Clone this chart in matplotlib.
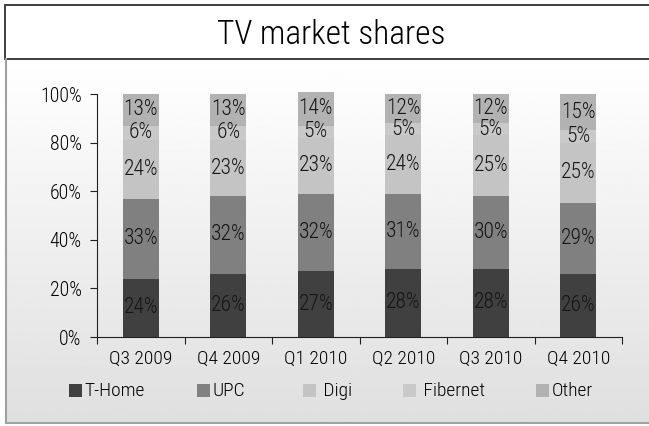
import numpy as np
import matplotlib
matplotlib.use('Agg')
import matplotlib.pyplot as plt
from matplotlib.patches import Rectangle

# TV market shares by quarter (percent)
quarters = ['Q3 2009', 'Q4 2009', 'Q1 2010', 'Q2 2010', 'Q3 2010', 'Q4 2010']
t_home = [24, 26, 27, 28, 28, 26]
upc = [33, 32, 32, 31, 30, 29]
digi = [24, 23, 23, 24, 25, 25]
fibernet = [6, 6, 5, 5, 5, 5]
other = [13, 13, 14, 12, 12, 15]

series_names = ['T-Home', 'UPC', 'Digi', 'Fibernet', 'Other']
series_values = [t_home, upc, digi, fibernet, other]
colors = ['#404040', '#808080', '#c4c4c4', '#c9c9c9', '#b2b2b2']

plt.rcParams['font.family'] = ['Roboto Condensed', 'DejaVu Sans']
plt.rcParams['font.weight'] = 300

fig = plt.figure(figsize=(6.49, 4.26), dpi=100)

# gradient background of the lower box
bg = fig.add_axes([0.009, 0.007, 0.991, 0.8545], zorder=-2)
grad = np.linspace(1.0, 0.875, 256).reshape(-1, 1)
bg.imshow(grad, aspect='auto', cmap='gray', vmin=0, vmax=1, extent=[0, 1, 0, 1])
bg.set_xlim(0, 1)
bg.set_ylim(0, 1)
bg.axis('off')

# borders
fig.patches.append(Rectangle((0.0077, 0.8615), 1.1, 0.1268, transform=fig.transFigure,
                             fill=True, facecolor='white', edgecolor='#303030', lw=1.3, zorder=-1))
fig.lines.append(plt.Line2D([0.0092, 0.0092], [0.007, 0.8615], transform=fig.transFigure,
                            color='#a0a0a0', lw=1.5))
fig.lines.append(plt.Line2D([0.0092, 1.0], [0.007, 0.007], transform=fig.transFigure,
                            color='#a0a0a0', lw=1.5))

fig.text(0.51, 0.918, 'TV market shares', ha='center', va='center', fontsize=24)

ax = fig.add_axes([0.1495, 0.2089, 0.8089, 0.5704])
ax.patch.set_alpha(0)

x = np.arange(len(quarters))
bottom = np.zeros(len(quarters))
for name, vals, c in zip(series_names, series_values, colors):
    v = np.array(vals) / 100.0
    bars = ax.bar(x, v, 0.41, bottom=bottom, color=c, label=name, clip_on=False)
    for xi, b, h, val in zip(x, bottom, v, vals):
        ax.text(xi, b + h / 2, f'{val}%', ha='center', va='center', fontsize=15.5, color='#151515')
    bottom = bottom + v

ax.set_xlim(-0.5, len(quarters) - 0.5)
ax.set_ylim(0, 1.0)
ax.set_yticks(np.arange(0, 1.01, 0.2))
ax.set_yticklabels([f'{int(round(t * 100))}%' for t in np.arange(0, 1.01, 0.2)])
ax.set_xticks(np.arange(-0.5, len(quarters), 1.0))
ax.set_xticklabels([])
ax.set_xticks(x, minor=True)
ax.set_xticklabels(quarters, minor=True)
ax.tick_params(axis='x', which='major', length=5, direction='out', color='#202020')
ax.tick_params(axis='x', which='minor', length=0, pad=9, labelsize=14)
ax.tick_params(axis='y', length=5, direction='out', pad=6, labelsize=14.3, color='#202020')
for s in ['top', 'right']:
    ax.spines[s].set_visible(False)
for s in ['left', 'bottom']:
    ax.spines[s].set_color('#202020')

# legend entries
leg_x = [0.1063, 0.3035, 0.4669, 0.6210, 0.8259]
leg_labels = ['T-Home', 'UPC', ' Digi', ' Fibernet', 'Other']
for lx, lab, c in zip(leg_x, leg_labels, colors):
    fig.patches.append(Rectangle((lx, 0.068), 0.020, 0.0305, transform=fig.transFigure,
                                 facecolor=c, edgecolor='none'))
    fig.text(lx + 0.024, 0.083, lab, ha='left', va='center', fontsize=14)

fig.savefig('out.png', dpi=100)
